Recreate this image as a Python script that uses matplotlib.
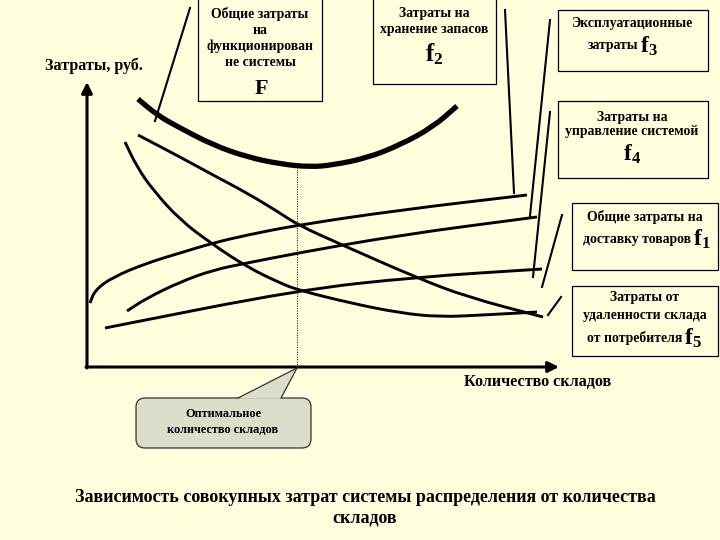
import matplotlib
matplotlib.use("Agg")
import matplotlib.pyplot as plt
from matplotlib.patches import Rectangle, FancyBboxPatch, Polygon, PathPatch
from matplotlib.path import Path

plt.rcParams["mathtext.fontset"] = "custom"
plt.rcParams["mathtext.rm"] = "Liberation Serif:bold"
plt.rcParams["mathtext.bf"] = "Liberation Serif:bold"
plt.rcParams["mathtext.it"] = "Liberation Serif:bold"

# ---- schematic data (canvas units: x right, y down, 720 x 540) ----
F_x = [138, 157, 180, 213, 247, 280, 310, 333, 367, 400, 433, 457]
F_y = [99, 115, 128, 145, 157, 164, 167, 165, 158, 145, 127, 106]

f1_x = [138, 180, 213, 247, 280, 298, 340, 415, 467, 543]
f1_y = [135, 157, 175, 193, 213, 225, 244, 277, 297, 317]

f5_x = [125, 137, 153, 180, 212, 247, 280, 298, 350, 400, 440, 483, 537]
f5_y = [142, 167, 190, 220, 244, 267, 283, 290, 303, 313, 317, 315, 312]

f2_x = [90, 95, 113, 147, 180, 213, 247, 298, 400, 527]
f2_y = [303, 290, 277, 263, 253, 243, 235, 225, 210, 195]

f3_x = [127, 147, 180, 213, 247, 298, 400, 537]
f3_y = [311, 298, 282, 270, 263, 253, 235, 217]

f4_x = [105, 298, 417, 542]
f4_y = [328, 290, 277, 269]

optimum_x = 297
optimum_y = 167

y_label = "Затраты, руб."
x_label = "Количество складов"
title_lines = ["Зависимость совокупных затрат системы распределения от количества",
               "складов"]
callout_lines = ["Оптимальное", "количество складов"]

BG = "#FFFFDD"
FONT = "Liberation Serif"

fig = plt.figure(figsize=(7.2, 5.4), dpi=100, facecolor=BG)
ax = fig.add_axes([0, 0, 1, 1])
ax.set_xlim(0, 720)
ax.set_ylim(540, 0)
ax.axis("off")
ax.set_facecolor(BG)


def txt(x, y, s, size=9.9, ha="center", **kw):
    ax.text(x, y, s, fontsize=size, ha=ha, va="center", family=FONT,
            fontweight="bold", color="black", **kw)


def smooth_curve(xs, ys, lw):
    """Draw a polyline through the points with rounded (quadratic) corners."""
    pts = list(zip(xs, ys))
    verts = [pts[0]]
    codes = [Path.MOVETO]
    if len(pts) == 2:
        verts.append(pts[1])
        codes.append(Path.LINETO)
    else:
        mid = lambda a, b: ((a[0] + b[0]) / 2, (a[1] + b[1]) / 2)
        verts.append(mid(pts[0], pts[1]))
        codes.append(Path.LINETO)
        for i in range(1, len(pts) - 1):
            verts += [pts[i], mid(pts[i], pts[i + 1])]
            codes += [Path.CURVE3, Path.CURVE3]
        verts.append(pts[-1])
        codes.append(Path.LINETO)
    ax.add_patch(PathPatch(Path(verts, codes), facecolor="none",
                           edgecolor="black", lw=lw, capstyle="butt",
                           joinstyle="round", zorder=2))


# axes arrows
ax.annotate("", xy=(87, 82), xytext=(87, 368),
            arrowprops=dict(arrowstyle="-|>", lw=2.2, color="black",
                            mutation_scale=16, shrinkA=0, shrinkB=0))
ax.annotate("", xy=(559, 367), xytext=(86, 367),
            arrowprops=dict(arrowstyle="-|>", lw=2.2, color="black",
                            mutation_scale=16, shrinkA=0, shrinkB=0))

# optimum dotted line
ax.plot([optimum_x, optimum_x], [367, optimum_y], color="black", lw=0.7,
        ls=(0, (1, 1.5)))

# curves
for xs, ys in [(f1_x, f1_y), (f5_x, f5_y), (f2_x, f2_y), (f3_x, f3_y), (f4_x, f4_y)]:
    smooth_curve(xs, ys, 2.1)
smooth_curve(F_x, F_y, 3.8)

# leader lines
leaders = [((190, 8), (155, 121)), ((505, 10), (514, 193)),
           ((550, 20), (530, 216)), ((550, 112), (533, 277)),
           ((562, 215), (542, 287)), ((561, 297), (548, 315))]
for (x0, y0), (x1, y1) in leaders:
    ax.plot([x0, x1], [y0, y1], color="black", lw=1.5)

# boxes
boxes = [(198, -2, 322, 101), (373, -2, 496, 84), (558, 10, 708, 71),
         (558, 101, 708, 178), (572, 203, 718, 270), (572, 286, 718, 356)]
for x0, y0, x1, y1 in boxes:
    ax.add_patch(Rectangle((x0, y0), x1 - x0, y1 - y0, facecolor=BG,
                           edgecolor="black", lw=0.9, zorder=3))

# box texts
txt(94, 66, y_label, size=11.5)
txt(260, 14, "Общие затраты", zorder=4)
txt(260, 30, "на", zorder=4)
txt(260, 46, "функционирован", zorder=4)
txt(260, 62, "не системы", zorder=4)
txt(261, 89, "F", size=16, zorder=4)

txt(434, 14, "Затраты на", zorder=4)
txt(434, 30, "хранение запасов", zorder=4)
txt(434, 54, r"$\mathbf{f}_\mathbf{2}$", size=18, zorder=4)

txt(632, 23, "Эксплуатационные", zorder=4)
txt(638, 46, "затраты", ha="right", zorder=4)
txt(640, 46, r"$\mathbf{f}_\mathbf{3}$", size=17, ha="left", zorder=4)

txt(632, 117, "Затраты на", zorder=4)
txt(632, 132, "управление системой", zorder=4)
txt(632, 154, r"$\mathbf{f}_\mathbf{4}$", size=17, zorder=4)

txt(645, 217, "Общие затраты на", zorder=4)
txt(691, 239, "доставку товаров", ha="right", zorder=4)
txt(693, 239, r"$\mathbf{f}_\mathbf{1}$", size=17, ha="left", zorder=4)

txt(645, 298, "Затраты от", zorder=4)
txt(645, 316, "удаленности склада", zorder=4)
txt(682, 338, "от потребителя", ha="right", zorder=4)
txt(684, 338, r"$\mathbf{f}_\mathbf{5}$", size=17, ha="left", zorder=4)

txt(538, 382, x_label, size=11.6)

# callout
ax.add_patch(FancyBboxPatch((136, 398), 175, 50,
                            boxstyle="round,pad=0,rounding_size=9",
                            facecolor="#DDDDCC", edgecolor="#333333", lw=0.9,
                            zorder=3))
ax.add_patch(Polygon([(238, 398.8), (optimum_x, 368), (281, 398.8)], closed=True,
                     facecolor="#DDDDCC", edgecolor="none", zorder=4))
ax.plot([238, optimum_x, 281], [398, 368, 398], color="#333333", lw=0.9, zorder=5)
txt(223, 414, callout_lines[0], size=8.8, zorder=6)
txt(223, 430, callout_lines[1], size=8.8, zorder=6)

# title
txt(365, 497, title_lines[0], size=13)
txt(365, 518, title_lines[1], size=13)

fig.savefig("out.png", dpi=100, facecolor=BG)
